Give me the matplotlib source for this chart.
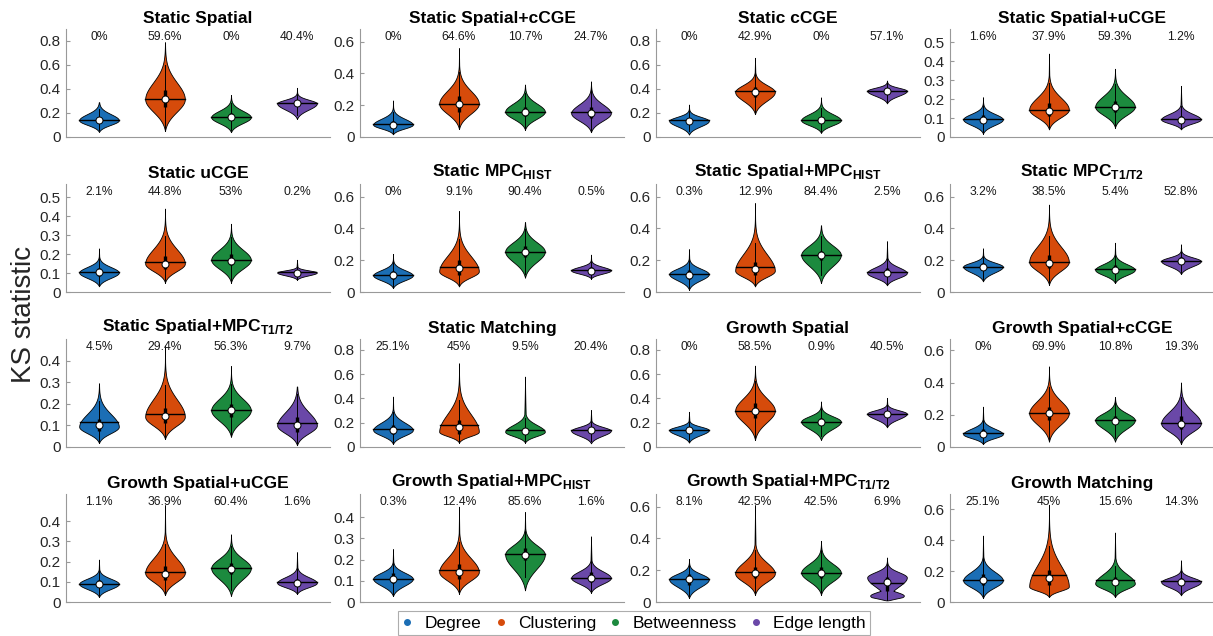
import numpy as np
import matplotlib.pyplot as plt
from matplotlib.lines import Line2D

plt.rcParams['font.family'] = ['Liberation Sans', 'DejaVu Sans']
plt.rcParams['mathtext.fontset'] = 'custom'
plt.rcParams['mathtext.rm'] = 'Liberation Sans'
plt.rcParams['mathtext.bf'] = 'Liberation Sans:bold'

metrics = ['Degree', 'Clustering', 'Betweenness', 'Edge length']
colors = ['#1B6EB5', '#D64B0B', '#1C8A3E', '#6A48A8']

titles = ['Static Spatial', 'Static Spatial+cCGE', 'Static cCGE', 'Static Spatial+uCGE',
          'Static uCGE', 'Static MPC$_{\\mathbf{HIST}}$', 'Static Spatial+MPC$_{\\mathbf{HIST}}$',
          'Static MPC$_{\\mathbf{T1/T2}}$',
          'Static Spatial+MPC$_{\\mathbf{T1/T2}}$', 'Static Matching', 'Growth Spatial',
          'Growth Spatial+cCGE',
          'Growth Spatial+uCGE', 'Growth Spatial+MPC$_{\\mathbf{HIST}}$',
          'Growth Spatial+MPC$_{\\mathbf{T1/T2}}$', 'Growth Matching']

# share of runs in which each metric gave the largest KS statistic
pcts = [[0, 59.6, 0, 40.4], [0, 64.6, 10.7, 24.7], [0, 42.9, 0, 57.1], [1.6, 37.9, 59.3, 1.2],
        [2.1, 44.8, 53, 0.2], [0, 9.1, 90.4, 0.5], [0.3, 12.9, 84.4, 2.5], [3.2, 38.5, 5.4, 52.8],
        [4.5, 29.4, 56.3, 9.7], [25.1, 45, 9.5, 20.4], [0, 58.5, 0.9, 40.5], [0, 69.9, 10.8, 19.3],
        [1.1, 36.9, 60.4, 1.6], [0.3, 12.4, 85.6, 1.6], [8.1, 42.5, 42.5, 6.9], [25.1, 45, 15.6, 14.3]]

# distribution summaries: extent, mode, upper end of the bulk, median, mean, quartiles
ks_min = [[0.042, 0.05, 0.04, 0.15], [0.017, 0.05, 0.046, 0.03], [0.02, 0.19, 0.034, 0.28],
          [0.018, 0.04, 0.05, 0.04], [0.03, 0.05, 0.05, 0.065], [0.025, 0.035, 0.09, 0.085],
          [0.015, 0.035, 0.056, 0.042], [0.067, 0.046, 0.056, 0.113], [0.018, 0.037, 0.047, 0.008],
          [0.025, 0.036, 0.036, 0.03], [0.036, 0.058, 0.058, 0.162], [0.018, 0.033, 0.033, 0.018],
          [0.025, 0.034, 0.03, 0.04], [0.028, 0.04, 0.055, 0.044], [0.025, 0.046, 0.046, 0.01],
          [0.026, 0.032, 0.032, 0.043]]
ks_max = [[0.29, 0.79, 0.35, 0.41], [0.23, 0.56, 0.33, 0.35], [0.27, 0.66, 0.33, 0.47],
          [0.21, 0.44, 0.36, 0.27], [0.23, 0.44, 0.36, 0.17], [0.24, 0.51, 0.44, 0.235],
          [0.27, 0.56, 0.42, 0.32], [0.275, 0.55, 0.31, 0.30], [0.295, 0.47, 0.375, 0.28],
          [0.415, 0.69, 0.58, 0.305], [0.29, 0.67, 0.375, 0.405], [0.25, 0.50, 0.31, 0.40],
          [0.21, 0.48, 0.335, 0.247], [0.25, 0.45, 0.425, 0.31], [0.27, 0.61, 0.385, 0.28],
          [0.43, 0.63, 0.45, 0.27]]
ks_mode = [[0.14, 0.315, 0.165, 0.28], [0.078, 0.21, 0.16, 0.15], [0.135, 0.375, 0.14, 0.385],
           [0.093, 0.145, 0.16, 0.093], [0.103, 0.15, 0.17, 0.103], [0.105, 0.13, 0.255, 0.136],
           [0.113, 0.134, 0.234, 0.12], [0.16, 0.19, 0.14, 0.195], [0.094, 0.14, 0.17, 0.1],
           [0.14, 0.126, 0.126, 0.135], [0.14, 0.30, 0.21, 0.275], [0.08, 0.21, 0.167, 0.146],
           [0.09, 0.144, 0.168, 0.095], [0.11, 0.142, 0.225, 0.114], [0.143, 0.18, 0.185, 0.155],
           [0.14, 0.10, 0.12, 0.13]]
ks_bulk = [[0.24, 0.59, 0.27, 0.34], [0.15, 0.37, 0.26, 0.26], [0.2, 0.49, 0.24, 0.435],
           [0.15, 0.27, 0.27, 0.15], [0.16, 0.30, 0.275, 0.125], [0.17, 0.32, 0.37, 0.18],
           [0.18, 0.34, 0.35, 0.19], [0.21, 0.38, 0.21, 0.24], [0.21, 0.30, 0.275, 0.22],
           [0.26, 0.41, 0.236, 0.195], [0.195, 0.50, 0.295, 0.33], [0.146, 0.36, 0.25, 0.29],
           [0.14, 0.285, 0.26, 0.15], [0.166, 0.27, 0.31, 0.175], [0.21, 0.315, 0.295, 0.22],
           [0.25, 0.37, 0.24, 0.185]]
ks_median = [[0.145, 0.315, 0.165, 0.28], [0.078, 0.21, 0.155, 0.15], [0.135, 0.375, 0.14, 0.385],
             [0.088, 0.137, 0.158, 0.09], [0.103, 0.15, 0.163, 0.1], [0.105, 0.15, 0.25, 0.134],
             [0.11, 0.142, 0.232, 0.12], [0.16, 0.18, 0.14, 0.195], [0.1, 0.142, 0.17, 0.1],
             [0.14, 0.162, 0.13, 0.137], [0.14, 0.30, 0.21, 0.27], [0.08, 0.21, 0.163, 0.145],
             [0.09, 0.14, 0.163, 0.095], [0.11, 0.144, 0.223, 0.114], [0.143, 0.185, 0.185, 0.126],
             [0.145, 0.156, 0.13, 0.13]]
ks_mean = [[0.145, 0.32, 0.165, 0.285], [0.084, 0.21, 0.16, 0.155], [0.14, 0.38, 0.145, 0.385],
           [0.093, 0.145, 0.16, 0.093], [0.106, 0.16, 0.17, 0.105], [0.107, 0.157, 0.255, 0.136],
           [0.113, 0.157, 0.234, 0.123], [0.16, 0.19, 0.142, 0.197], [0.114, 0.155, 0.17, 0.11],
           [0.148, 0.178, 0.14, 0.14], [0.14, 0.30, 0.21, 0.275], [0.085, 0.21, 0.167, 0.148],
           [0.09, 0.15, 0.168, 0.097], [0.11, 0.153, 0.228, 0.115], [0.143, 0.19, 0.185, 0.12],
           [0.145, 0.178, 0.14, 0.134]]
ks_q1 = [[0.125, 0.25, 0.145, 0.26], [0.06, 0.16, 0.13, 0.12], [0.115, 0.33, 0.12, 0.36],
         [0.075, 0.11, 0.13, 0.075], [0.085, 0.12, 0.14, 0.09], [0.085, 0.11, 0.22, 0.12],
         [0.085, 0.11, 0.2, 0.1], [0.14, 0.15, 0.12, 0.175], [0.075, 0.11, 0.14, 0.07],
         [0.11, 0.11, 0.11, 0.115], [0.115, 0.24, 0.18, 0.25], [0.06, 0.17, 0.14, 0.11],
         [0.075, 0.11, 0.14, 0.08], [0.09, 0.11, 0.2, 0.095], [0.11, 0.15, 0.15, 0.07],
         [0.11, 0.11, 0.11, 0.11]]
ks_q3 = [[0.17, 0.39, 0.2, 0.31], [0.1, 0.26, 0.19, 0.19], [0.16, 0.42, 0.17, 0.41],
         [0.115, 0.18, 0.19, 0.11], [0.125, 0.19, 0.2, 0.115], [0.13, 0.2, 0.29, 0.155],
         [0.14, 0.19, 0.26, 0.15], [0.185, 0.23, 0.17, 0.22], [0.13, 0.18, 0.2, 0.14],
         [0.18, 0.22, 0.16, 0.16], [0.165, 0.36, 0.24, 0.3], [0.11, 0.25, 0.195, 0.19],
         [0.11, 0.18, 0.195, 0.115], [0.135, 0.18, 0.255, 0.14], [0.175, 0.22, 0.22, 0.16],
         [0.18, 0.21, 0.16, 0.155]]
# second mode (centre, relative height, spread) for the one bimodal distribution
second_mode = {(14, 3): (0.04, 0.85, 0.022)}

ylim_top = [0.90, 0.68, 0.90, 0.57, 0.57, 0.68, 0.68, 0.68,
            0.50, 0.89, 0.89, 0.67, 0.535, 0.51, 0.68, 0.70]
ytick_top = [0.8, 0.6, 0.8, 0.5, 0.5, 0.6, 0.6, 0.6, 0.4, 0.8, 0.8, 0.6, 0.4, 0.4, 0.6, 0.6]


def density(y, lo, hi, pk, bulk, extra=None):
    s_lo = (pk - lo) / 2.5
    s_hi = (bulk - pk) / 2.0
    e0 = np.exp(-0.5 * 2.5 ** 2)
    w = np.empty_like(y)
    b = y <= pk
    w[b] = (np.exp(-0.5 * ((y[b] - pk) / s_lo) ** 2) - e0) / (1 - e0)
    a = ~b
    g = np.exp(-0.5 * ((y[a] - pk) / s_hi) ** 2)
    tail = 0.06 * ((hi - y[a]) / (hi - pk)) ** 1.5
    w[a] = np.maximum(g, tail)
    if extra is not None:
        c, h, s = extra
        taper = np.clip((y - lo) / 0.02, 0, 1) ** 0.5
        w = np.maximum(w, h * np.exp(-0.5 * ((y - c) / s) ** 2) * taper)
    return np.clip(w, 0, None)


W, H = 1213, 636
fig = plt.figure(figsize=(W / 100, H / 100), dpi=100)
lefts = [66, 360, 656, 950]
tops = [29, 184, 339, 494]
axw, axh = 264, 108

for p in range(16):
    r, c = divmod(p, 4)
    ax = fig.add_axes([lefts[c] / W, (H - tops[r] - axh) / H, axw / W, axh / H])
    stats = []
    for k in range(4):
        lo, hi = ks_min[p][k], ks_max[p][k]
        y = np.linspace(lo, hi, 400)
        w = density(y, lo, hi, ks_mode[p][k], ks_bulk[p][k], second_mode.get((p, k)))
        stats.append(dict(coords=y, vals=w, mean=ks_mean[p][k], median=ks_median[p][k],
                          min=lo, max=hi))
    pos = np.arange(1, 5)
    parts = ax.violin(stats, positions=pos, widths=0.6, showmeans=False,
                      showextrema=False, showmedians=False)
    for body, col in zip(parts['bodies'], colors):
        body.set_facecolor(col)
        body.set_edgecolor('black')
        body.set_linewidth(0.6)
        body.set_alpha(1)

    for k, st in enumerate(stats):
        x = pos[k]
        q1, q3 = ks_q1[p][k], ks_q3[p][k]
        iqr = q3 - q1
        ax.plot([x, x], [max(st['min'], q1 - 1.5 * iqr), min(st['max'], q3 + 1.5 * iqr)],
                color='black', lw=0.7, zorder=3)
        ax.plot([x, x], [q1, q3], color='black', lw=2.4, solid_capstyle='butt', zorder=4)
        hw = 0.3 * np.interp(st['mean'], st['coords'], st['vals']) / st['vals'].max()
        ax.plot([x - hw, x + hw], [st['mean'], st['mean']], color='black', lw=1.0, zorder=4)
        ax.plot(x, st['median'], 'o', ms=5, mfc='white', mec='black', mew=0.7, zorder=5)
        ax.text(x, 0.93, '%g%%' % pcts[p][k], transform=ax.get_xaxis_transform(),
                ha='center', va='center', fontsize=8.7, color='#1a1a1a')

    ax.set_xlim(0.5, 4.5)
    ax.set_ylim(0, ylim_top[p])
    step = 0.2 if ytick_top[p] >= 0.6 else 0.1
    ticks = np.round(np.arange(0, ytick_top[p] + 1e-9, step), 2)
    ax.set_yticks(ticks)
    ax.set_yticklabels(['0' if t == 0 else '%g' % t for t in ticks])
    ax.set_xticks([])
    for s in ['top', 'right']:
        ax.spines[s].set_visible(False)
    for s in ['left', 'bottom']:
        ax.spines[s].set_color('#999999')
        ax.spines[s].set_linewidth(0.8)
    ax.tick_params(axis='y', direction='in', length=3, color='#999999',
                   labelcolor='#262626', labelsize=11, pad=4)
    ax.set_title(titles[p], fontsize=12.5, fontweight='bold', va='bottom', pad=2)

fig.text(0.02, 0.505, 'KS statistic', rotation=90, ha='center', va='center',
         fontsize=20, color='#262626')

handles = [Line2D([], [], ls='none', marker='o', ms=4, mfc=col, mec=col) for col in colors]
leg = fig.legend(handles, metrics, loc='center', bbox_to_anchor=(634 / W, 1 - 623 / H),
                 ncol=4, fontsize=12.5, frameon=True, fancybox=False, handlelength=0.6,
                 handletextpad=0.7, columnspacing=0.8, borderpad=0.25, borderaxespad=0)
leg.get_frame().set_edgecolor('#999999')
leg.get_frame().set_linewidth(0.8)

fig.savefig('out.png', dpi=100)
